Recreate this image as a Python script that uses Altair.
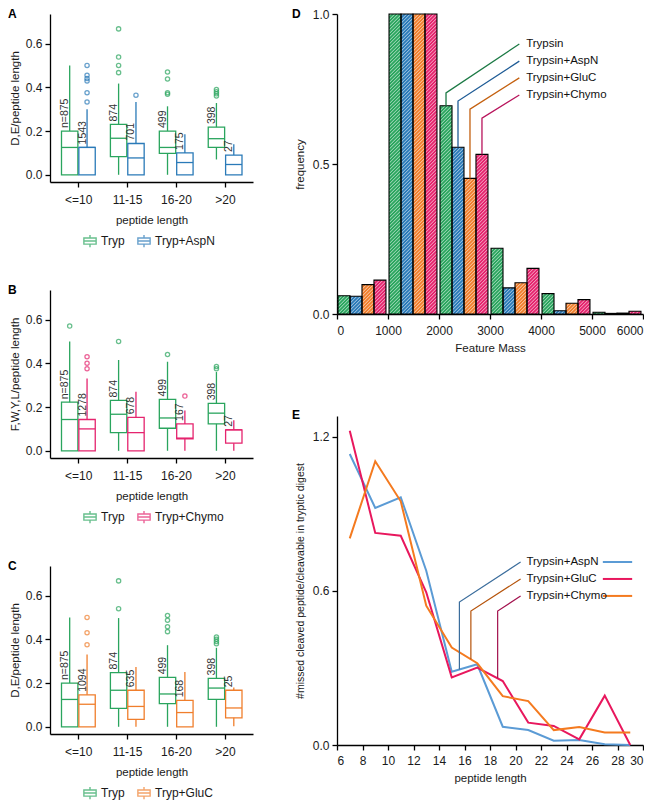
import json
import altair as alt
import numpy as np
import pandas as pd

FONT = "Liberation Sans"
GREEN = "#2aa55e"
BLUE = "#2a7ab8"
PINK = "#e5246e"
ORANGE = "#f07e2c"

# ---------------- panels A-C: box plots ----------------
length_groups = ["<=10", "11-15", "16-20", ">20"]

# Panel A: D,E/peptide length
A_tryp_lo = [0.0, 0.0, 0.0, 0.07]
A_tryp_q1 = [0.0, 0.083, 0.098, 0.125]
A_tryp_med = [0.125, 0.167, 0.125, 0.165]
A_tryp_q3 = [0.2, 0.23, 0.2, 0.218]
A_tryp_hi = [0.5, 0.417, 0.313, 0.328]
A_tryp_out = [[], [0.467, 0.5, 0.538, 0.667], [0.368, 0.375, 0.4375, 0.47], [0.36, 0.37, 0.38, 0.39]]
A_tryp_n = ["n=875", "874", "499", "398"]

A_aspn_lo = [0.0, 0.0, 0.0, 0.0]
A_aspn_q1 = [0.0, 0.0, 0.0, 0.0]
A_aspn_med = [0.125, 0.077, 0.056, 0.047]
A_aspn_q3 = [0.125, 0.143, 0.1, 0.09]
A_aspn_hi = [0.3, 0.333, 0.185, 0.14]
A_aspn_out = [[0.333, 0.375, 0.429, 0.44, 0.455, 0.5], [0.364], [], []]
A_aspn_n = ["1543", "701", "175", "27"]

# Panel B: F,W,Y,L/peptide length
B_tryp_lo = [0.0, 0.0, 0.0, 0.0]
B_tryp_q1 = [0.0, 0.083, 0.103, 0.123]
B_tryp_med = [0.143, 0.167, 0.15, 0.172]
B_tryp_q3 = [0.222, 0.23, 0.235, 0.217]
B_tryp_hi = [0.5, 0.415, 0.407, 0.36]
B_tryp_out = [[0.57], [0.5], [0.44], [0.375, 0.385]]
B_tryp_n = ["n=875", "874", "499", "398"]

B_chymo_lo = [0.0, 0.0, 0.0, 0.0]
B_chymo_q1 = [0.0, 0.0, 0.055, 0.035]
B_chymo_med = [0.1, 0.083, 0.058, 0.096]
B_chymo_q3 = [0.143, 0.153, 0.123, 0.096]
B_chymo_hi = [0.33, 0.27, 0.184, 0.14]
B_chymo_out = [[0.375, 0.4, 0.43], [], [0.25], []]
B_chymo_n = ["1278", "678", "167", "27"]

# Panel C: D,E/peptide length
C_tryp_lo = [0.0, 0.0, 0.0, 0.0]
C_tryp_q1 = [0.0, 0.084, 0.106, 0.125]
C_tryp_med = [0.125, 0.167, 0.15, 0.177]
C_tryp_q3 = [0.2, 0.248, 0.226, 0.221]
C_tryp_hi = [0.5, 0.497, 0.373, 0.361]
C_tryp_out = [[], [0.54, 0.667], [0.435, 0.457, 0.487, 0.509], [0.38, 0.39, 0.40, 0.41]]
C_tryp_n = ["n=875", "874", "499", "398"]

C_gluc_lo = [0.0, 0.0, 0.0, 0.003]
C_gluc_q1 = [0.0, 0.034, 0.0, 0.041]
C_gluc_med = [0.103, 0.093, 0.065, 0.086]
C_gluc_q3 = [0.146, 0.167, 0.121, 0.167]
C_gluc_hi = [0.33, 0.273, 0.25, 0.18]
C_gluc_out = [[0.375, 0.43, 0.5], [], [], []]
C_gluc_n = ["1094", "635", "168", "25"]

# ---------------- panel D: feature mass histogram ----------------
mass_bin_start = [0, 1000, 2000, 3000, 4000, 5000]
mass_enzymes = ["Trypsin", "Trypsin+AspN", "Trypsin+GluC", "Trypsin+Chymo"]
freq_trypsin = [0.061, 1.0, 0.694, 0.219, 0.068, 0.006]
freq_aspn = [0.059, 1.0, 0.556, 0.087, 0.011, 0.002]
freq_gluc = [0.098, 1.0, 0.452, 0.104, 0.036, 0.003]
freq_chymo = [0.113, 1.0, 0.532, 0.152, 0.048, 0.009]

# ---------------- panel E: missed cleavages ----------------
pep_len = [7, 9, 11, 13, 15, 17, 19, 21, 23, 25, 27, 29]
missed_aspn = [1.132, 0.922, 0.964, 0.678, 0.285, 0.314, 0.071, 0.058, 0.017, 0.019, 0.003, 0.0]
missed_gluc = [1.223, 0.825, 0.814, 0.594, 0.263, 0.301, 0.249, 0.087, 0.074, 0.022, 0.192, 0.0]
missed_chymo = [0.804, 1.104, 0.948, 0.542, 0.379, 0.318, 0.19, 0.171, 0.058, 0.07, 0.049, 0.049]
E_series = ["Trypsin+AspN", "Trypsin+GluC", "Trypsin+Chymo"]
E_colors = ["#5b9bd5", "#e8175d", "#f47a1f"]
E_leader_colors = ["#3b6d9c", "#b5530a", "#a3124e"]

# ------------------------------------------------------------------
BOX_W, BOX_H = 203, 168
LEG_PATH = "M-1,-0.5H1V0.5H-1Z M-1,0H1 M0,-0.5V-1 M0,0.5V1"


def st(lo, q1, med, q3, hi, out, n):
    return dict(lo=lo, q1=q1, med=med, q3=q3, hi=hi, out=out, n=n)


def box_panel(letter, ytitle, s1, s2, name1, name2, c1, c2):
    boxes, whisk, outs, txt = [], [], [], []
    for k, (s, name) in enumerate([(s1, name1), (s2, name2)]):
        for i in range(len(length_groups)):
            pos = i + 1
            left = pos - 0.34 if k == 0 else pos + 0.015
            right = left + 0.335
            ctr = (left + right) / 2
            boxes.append(dict(g=name, x=left, x2=right, q1=s["q1"][i], q3=s["q3"][i], med=s["med"][i]))
            whisk.append(dict(g=name, x=ctr, y=s["lo"][i], y2=s["q1"][i]))
            whisk.append(dict(g=name, x=ctr, y=s["q3"][i], y2=s["hi"][i]))
            for v in s["out"][i]:
                outs.append(dict(g=name, x=ctr, y=v))
            txt.append(dict(x=left + 0.075, y=s["q3"][i], t=s["n"][i]))
    boxes, whisk, outs, txt = map(pd.DataFrame, [boxes, whisk, outs, txt])

    xscale = alt.Scale(domain=[0.425, 4.575], nice=False, zero=False)
    yscale = alt.Scale(domain=[-0.033, 0.735], nice=False, zero=False)
    xaxis = alt.Axis(values=[1, 2, 3, 4],
                     labelExpr=json.dumps(length_groups) + "[datum.value - 1]",
                     title="peptide length", labelPadding=7, titlePadding=9,
                     tickSize=5)
    yaxis = alt.Axis(values=[0, 0.2, 0.4, 0.6], format=".1f", title=ytitle,
                     labelPadding=3, titlePadding=5, tickSize=5)

    def X(f):
        return alt.X(f, scale=xscale, axis=xaxis)

    def Y(f):
        return alt.Y(f, scale=yscale, axis=yaxis)

    color = alt.Color("g:N", scale=alt.Scale(domain=[name1, name2], range=[c1, c2]),
                      legend=alt.Legend(title=None, orient="none", legendX=33, legendY=BOX_H + 52,
                                        direction="horizontal", symbolType=LEG_PATH,
                                        symbolSize=150, symbolStrokeWidth=1.4,
                                        labelFontSize=12, labelFont=FONT, labelColor="#1a1a1a",
                                        columnPadding=10, labelOffset=4))

    rect = alt.Chart(boxes).mark_rect(filled=False, strokeWidth=1.3).encode(
        x=X("x:Q"), x2="x2:Q", y=Y("q1:Q"), y2="q3:Q", color=color)
    med = alt.Chart(boxes).mark_rule(strokeWidth=1.3).encode(
        x=X("x:Q"), x2="x2:Q", y=Y("med:Q"), color=color)
    wh = alt.Chart(whisk).mark_rule(strokeWidth=1.3).encode(
        x=X("x:Q"), y=Y("y:Q"), y2="y2:Q", color=color)
    pts = alt.Chart(outs).mark_point(shape="circle", filled=False, size=18, strokeWidth=1.3).encode(
        x=X("x:Q"), y=Y("y:Q"), color=color)
    lab = alt.Chart(txt).mark_text(angle=270, align="left", baseline="middle", dx=3,
                                   fontSize=10.5, font=FONT, color="#333333").encode(
        x=X("x:Q"), y=Y("y:Q"), text="t:N")
    let = alt.Chart(pd.DataFrame({"t": [letter]})).mark_text(
        align="left", baseline="top", fontSize=12, fontWeight="bold", font=FONT, color="black"
    ).encode(text="t:N", x=alt.value(-42), y=alt.value(-5))
    return alt.layer(rect, med, wh, pts, lab, let).properties(width=BOX_W, height=BOX_H)


panelA = box_panel("A", "D,E/peptide length",
                   st(A_tryp_lo, A_tryp_q1, A_tryp_med, A_tryp_q3, A_tryp_hi, A_tryp_out, A_tryp_n),
                   st(A_aspn_lo, A_aspn_q1, A_aspn_med, A_aspn_q3, A_aspn_hi, A_aspn_out, A_aspn_n),
                   "Tryp", "Tryp+AspN", GREEN, BLUE)
panelB = box_panel("B", "F,W,Y,L/peptide length",
                   st(B_tryp_lo, B_tryp_q1, B_tryp_med, B_tryp_q3, B_tryp_hi, B_tryp_out, B_tryp_n),
                   st(B_chymo_lo, B_chymo_q1, B_chymo_med, B_chymo_q3, B_chymo_hi, B_chymo_out, B_chymo_n),
                   "Tryp", "Tryp+Chymo", GREEN, PINK)
panelC = box_panel("C", "D,E/peptide length",
                   st(C_tryp_lo, C_tryp_q1, C_tryp_med, C_tryp_q3, C_tryp_hi, C_tryp_out, C_tryp_n),
                   st(C_gluc_lo, C_gluc_q1, C_gluc_med, C_gluc_q3, C_gluc_hi, C_gluc_out, C_gluc_n),
                   "Tryp", "Tryp+GluC", GREEN, ORANGE)

# ---------------- panel D ----------------
D_W, D_H = 306, 300
BAR_OFF, BAR_W = 20, 235
D_colors = [GREEN, BLUE, ORANGE, PINK]
D_leader_colors = ["#1c7a45", "#1f5c96", "#c4600f", "#b8145c"]
freqs = [freq_trypsin, freq_aspn, freq_gluc, freq_chymo]
bars = []
for ei, (name, vals) in enumerate(zip(mass_enzymes, freqs)):
    for b, v in zip(mass_bin_start, vals):
        x0 = b + BAR_OFF + ei * BAR_W
        bars.append(dict(enz=name, x=x0, x2=x0 + BAR_W, v=v, base=0.0))
bars = pd.DataFrame(bars)

px_x = D_W / 6000.0
px_y = D_H / 1.0
P = 3.5
hatch = []
for r in bars.itertuples():
    w = (r.x2 - r.x) * px_x
    h = r.v * px_y
    k = -w + P / 2
    while k < h:
        xs = max(0.0, -k)
        xe = min(w, h - k)
        if xe > xs:
            hatch.append(dict(x=r.x + xs / px_x, y=(xs + k) / px_y,
                              x2=r.x + xe / px_x, y2=(xe + k) / px_y))
        k += P
hatch = pd.DataFrame(hatch)

D_label_x = 3650
D_leader_end_x = 3575
D_label_y = [0.90, 0.843, 0.787, 0.73]
D_elbow_y = [0.737, 0.71, 0.683, 0.653]
lead = []
for ei, name in enumerate(mass_enzymes):
    row = bars[(bars.enz == name) & (bars.x >= 2000) & (bars.x < 3000)].iloc[0]
    cx = (row.x + row.x2) / 2
    pts_ = [(cx, row.v), (cx, D_elbow_y[ei]), (D_leader_end_x, D_label_y[ei])]
    for o, (px, py) in enumerate(pts_):
        lead.append(dict(enz=name, o=o, x=px, y=py, c=D_leader_colors[ei]))
lead = pd.DataFrame(lead)
dlab = pd.DataFrame(dict(t=mass_enzymes, x=[D_label_x] * 4, y=D_label_y))

dx_scale = alt.Scale(domain=[0, 6000], nice=False, zero=False)
dy_scale = alt.Scale(domain=[0, 1], nice=False, zero=False)
dx_axis = alt.Axis(values=list(range(0, 6001, 1000)), title="Feature Mass",
                   labelPadding=6, titlePadding=6, tickSize=5, format="d")
dy_axis = alt.Axis(values=[0, 0.5, 1.0], format=".1f", title="frequency",
                   labelPadding=3, titlePadding=7, tickSize=5)


def DX(f):
    return alt.X(f, scale=dx_scale, axis=dx_axis)


def DY(f):
    return alt.Y(f, scale=dy_scale, axis=dy_axis)


d_bars = alt.Chart(bars).mark_rect(strokeWidth=0).encode(
    x=DX("x:Q"), x2="x2:Q", y=DY("v:Q"), y2="base:Q",
    color=alt.Color("enz:N", scale=alt.Scale(domain=mass_enzymes, range=D_colors), legend=None))
d_hatch = alt.Chart(hatch).mark_rule(color="white", strokeWidth=0.9, opacity=0.7).encode(
    x=DX("x:Q"), y=DY("y:Q"), x2="x2:Q", y2="y2:Q")
d_outline = alt.Chart(bars).mark_rect(filled=False, stroke="black", strokeWidth=1.1).encode(
    x=DX("x:Q"), x2="x2:Q", y=DY("v:Q"), y2="base:Q")
d_lead = alt.Chart(lead).mark_line(strokeWidth=1.3).encode(
    x=DX("x:Q"), y=DY("y:Q"), detail="enz:N", order="o:Q",
    color=alt.Color("c:N", scale=None))
d_text = alt.Chart(dlab).mark_text(align="left", baseline="middle", dx=3, fontSize=11.5,
                                   font=FONT, color="#111111").encode(
    x=DX("x:Q"), y=DY("y:Q"), text="t:N")
d_let = alt.Chart(pd.DataFrame({"t": ["D"]})).mark_text(
    align="left", baseline="top", fontSize=12, fontWeight="bold", font=FONT, color="black"
).encode(text="t:N", x=alt.value(-45), y=alt.value(-5))
panelD = alt.layer(d_bars, d_hatch, d_outline, d_lead, d_text, d_let).properties(width=D_W, height=D_H)

# ---------------- panel E ----------------
E_W, E_H = 306, 329
lines = []
for name, vals, col in zip(E_series, [missed_aspn, missed_gluc, missed_chymo], E_colors):
    for x, v in zip(pep_len, vals):
        lines.append(dict(s=name, x=x, y=v, c=col))
lines = pd.DataFrame(lines)

E_label_x = 20.7
E_leader_end_x = 20.4
E_label_y = [0.712, 0.646, 0.58]
E_elbow_y = [0.556, 0.521, 0.521]
E_leader_x = [15.6, 16.5, 18.6]
E_leader_on = [missed_aspn, missed_chymo, missed_gluc]
E_sample_x = (26.85, 29.15)

elead = []
for i, name in enumerate(E_series):
    y0 = float(np.interp(E_leader_x[i], pep_len, E_leader_on[i]))
    pts_ = [(E_leader_x[i], y0), (E_leader_x[i], E_elbow_y[i]), (E_leader_end_x, E_label_y[i])]
    for o, (px, py) in enumerate(pts_):
        elead.append(dict(s=name, o=o, x=px, y=py, c=E_leader_colors[i]))
elead = pd.DataFrame(elead)
elab = pd.DataFrame(dict(t=E_series, x=[E_label_x] * 3, y=E_label_y,
                         xa=[E_sample_x[0]] * 3, xb=[E_sample_x[1]] * 3, c=E_colors))

ex_scale = alt.Scale(domain=[6, 30], nice=False, zero=False)
ey_scale = alt.Scale(domain=[0, 1.28], nice=False, zero=False)
ex_axis = alt.Axis(values=list(range(6, 31, 2)), title="peptide length",
                   labelPadding=5, titlePadding=6, tickSize=5)
ey_axis = alt.Axis(values=[0, 0.6, 1.2], format=".1f",
                   title="#missed cleaved peptide/cleavable  in tryptic digest",
                   labelPadding=3, titlePadding=7, tickSize=5, titleFontSize=10.5)


def EX(f):
    return alt.X(f, scale=ex_scale, axis=ex_axis)


def EY(f):
    return alt.Y(f, scale=ey_scale, axis=ey_axis)


e_lines = alt.Chart(lines).mark_line(strokeWidth=2).encode(
    x=EX("x:Q"), y=EY("y:Q"), detail="s:N", order="x:Q", color=alt.Color("c:N", scale=None))
e_lead = alt.Chart(elead).mark_line(strokeWidth=1.2).encode(
    x=EX("x:Q"), y=EY("y:Q"), detail="s:N", order="o:Q", color=alt.Color("c:N", scale=None))
e_sample = alt.Chart(elab).mark_rule(strokeWidth=2).encode(
    x=EX("xa:Q"), x2="xb:Q", y=EY("y:Q"), color=alt.Color("c:N", scale=None))
e_text = alt.Chart(elab).mark_text(align="left", baseline="middle", dx=2, fontSize=11.5,
                                   font=FONT, color="#111111").encode(
    x=EX("x:Q"), y=EY("y:Q"), text="t:N")
e_let = alt.Chart(pd.DataFrame({"t": ["E"]})).mark_text(
    align="left", baseline="top", fontSize=12, fontWeight="bold", font=FONT, color="black"
).encode(text="t:N", x=alt.value(-45), y=alt.value(-6))
panelE = alt.layer(e_lines, e_lead, e_sample, e_text, e_let).properties(width=E_W, height=E_H)

left = alt.vconcat(panelA, panelB, panelC, spacing=34).resolve_scale(color="independent").resolve_legend(color="independent")
right = alt.vconcat(panelD, panelE, spacing=55).resolve_scale(color="independent")

chart = alt.hconcat(left, right, spacing=39).resolve_scale(color="independent").properties(
    padding=0
).configure(font=FONT).configure_axis(
    grid=False, domainColor="black", domainWidth=1.3, tickColor="black", tickWidth=1.3,
    labelFont=FONT, labelFontSize=12, labelColor="#1a1a1a",
    titleFont=FONT, titleFontSize=11.5, titleFontWeight="normal", titleColor="#1a1a1a"
).configure_view(stroke=None)

chart.save("out.html", embed_options={"renderer": "svg", "actions": False})
